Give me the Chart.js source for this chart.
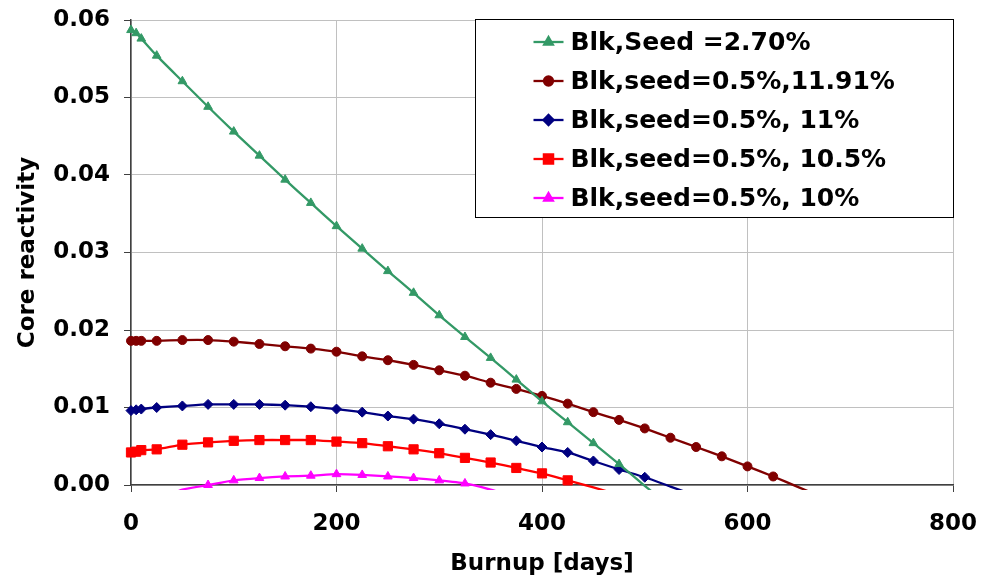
<!DOCTYPE html>
<html>
<head>
<meta charset="utf-8">
<script src="https://cdn.jsdelivr.net/npm/chart.js@4.4.1/dist/chart.umd.min.js"></script>
<style>
  body { margin: 0; background: #fff; }
  #wrap { width: 983px; height: 576px; }
</style>
</head>
<body>
<div id="wrap"><canvas id="reactivityChart" width="983" height="576"></canvas></div>
<script>
// burnup steps (days)
const days = [0, 5, 10, 25, 50, 75, 100, 125, 150, 175, 200, 225, 250, 275, 300, 325, 350, 375, 400, 425, 450, 475, 500, 525, 550, 575, 600, 625, 650, 675];

const seriesLabels = [
    'Blk,Seed =2.70%',
    'Blk,seed=0.5%,11.91%',
    'Blk,seed=0.5%, 11%',
    'Blk,seed=0.5%, 10.5%',
    'Blk,seed=0.5%, 10%'
];

// core reactivity, one value per entry of days (null = no point)
const seed270 = [0.0587, 0.0583, 0.0576, 0.0554, 0.0521, 0.0488, 0.0456, 0.0425, 0.0394, 0.0364, 0.0334, 0.0305, 0.0276, 0.0248, 0.0219, 0.0191, 0.0164, 0.0136, 0.0108, 0.0081, 0.0054, 0.0027, -0.0001, -0.0028, null, null, null, null, null, null];
const seed1191 = [0.0186, 0.0186, 0.0186, 0.0186, 0.0187, 0.0187, 0.0185, 0.0182, 0.0179, 0.0176, 0.0172, 0.0166, 0.0161, 0.0155, 0.0148, 0.0141, 0.0132, 0.0124, 0.0115, 0.0105, 0.0094, 0.0084, 0.0073, 0.0061, 0.0049, 0.0037, 0.0024, 0.0011, -0.0003, -0.0017];
const seed11 = [0.0096, 0.0097, 0.0098, 0.0100, 0.0102, 0.0104, 0.0104, 0.0104, 0.0103, 0.0101, 0.0098, 0.0094, 0.0089, 0.0085, 0.0079, 0.0072, 0.0065, 0.0057, 0.0049, 0.0042, 0.0031, 0.0020, 0.0010, -0.0002, -0.0014, null, null, null, null, null];
const seed105 = [0.0042, 0.0043, 0.0045, 0.0046, 0.0052, 0.0055, 0.0057, 0.0058, 0.0058, 0.0058, 0.0056, 0.0054, 0.0050, 0.0046, 0.0041, 0.0035, 0.0029, 0.0022, 0.0015, 0.0006, -0.0003, -0.0013, null, null, null, null, null, null, null, null];
const seed10 = [null, null, null, -0.0020, -0.0006, 0.0000, 0.0006, 0.0009, 0.0011, 0.0012, 0.0014, 0.0013, 0.0011, 0.0009, 0.0006, 0.0002, -0.0006, -0.0016, null, null, null, null, null, null, null, null, null, null, null, null];

const xTicks = [0, 200, 400, 600, 800];
const yTicks = [0, 0.01, 0.02, 0.03, 0.04, 0.05, 0.06];

const colors = ['#339966', '#800000', '#000080', '#ff0000', '#ff00ff'];
const markers = ['triangle', 'circle', 'rectRot', 'rect', 'triangle'];
const markerSize = [5, 4.5, 5, 6.5, 5];

function toPoints(values) {
    const pts = [];
    for (let i = 0; i < days.length; i++) {
        if (values[i] !== null) pts.push({ x: days[i], y: values[i] });
    }
    return pts;
}

const allValues = [seed270, seed1191, seed11, seed105, seed10];

const datasets = allValues.map(function(vals, i) {
    return {
        label: seriesLabels[i],
        data: toPoints(vals),
        borderColor: colors[i],
        backgroundColor: colors[i],
        borderWidth: 2.3,
        pointStyle: markers[i],
        pointRadius: ctx => (ctx.raw && ctx.raw.y < 0 ? 0 : markerSize[i]),
        pointBorderWidth: 1,
        pointBorderColor: colors[i],
        pointBackgroundColor: colors[i],
        tension: 0.2,
        clip: { left: 12, top: 12, right: 12, bottom: 5 }
    };
});

// legend box drawn inside the plot, top right
const boxLegend = {
    id: 'boxLegend',
    afterDraw(chart) {
        const ctx = chart.ctx;
        const area = chart.chartArea;
        const w = 478, h = 198;
        const left = Math.round(area.right - w) + 0.5;
        const top = Math.round(area.top - 1) + 0.5;
        ctx.save();
        ctx.fillStyle = '#fff';
        ctx.fillRect(left, top, w, h);
        ctx.strokeStyle = '#000';
        ctx.lineWidth = 1;
        ctx.strokeRect(left, top, w, h);
        chart.data.datasets.forEach(function(ds, i) {
            const y = top + 22.5 + i * 39;
            ctx.strokeStyle = ds.borderColor;
            ctx.lineWidth = 2.3;
            ctx.beginPath();
            ctx.moveTo(left + 58, y);
            ctx.lineTo(left + 88, y);
            ctx.stroke();
            ctx.fillStyle = ds.backgroundColor;
            Chart.helpers.drawPoint(ctx, {
                pointStyle: ds.pointStyle,
                radius: markerSize[i],
                rotation: 0,
                borderWidth: 1
            }, left + 73, y);
            ctx.fillStyle = '#000';
            ctx.font = 'bold 25px "DejaVu Sans"';
            ctx.textBaseline = 'middle';
            ctx.textAlign = 'left';
            ctx.fillText(ds.label, left + 95, y + 1);
        });
        ctx.restore();
    }
};

// let layout.padding alone decide the plot edges
function dropScalePadding(scale) {
    scale.paddingTop = 0;
    scale.paddingBottom = 0;
    scale.paddingLeft = 0;
    scale.paddingRight = 0;
}

Chart.defaults.font.family = '"DejaVu Sans", Verdana, sans-serif';
Chart.defaults.font.weight = 'bold';
Chart.defaults.font.size = 23;
Chart.defaults.color = '#000';

new Chart(document.getElementById('reactivityChart').getContext('2d'), {
    type: 'line',
    data: { datasets: datasets },
    options: {
        responsive: false,
        animation: false,
        devicePixelRatio: 1,
        layout: { padding: { left: 0, right: 30, top: 20, bottom: 0 } },
        plugins: {
            legend: { display: false },
            tooltip: { enabled: false }
        },
        scales: {
            x: {
                type: 'linear',
                min: 0,
                max: 800,
                afterBuildTicks: axis => { axis.ticks = xTicks.map(v => ({ value: v })); },
                ticks: { padding: 18 },
                grid: { color: '#c0c0c0', tickColor: '#404040', tickLength: 7 },
                border: { color: '#404040', width: 1.5 },
                title: { display: true, text: 'Burnup [days]', font: { lineHeight: 1 }, padding: { top: 0, bottom: 0 } },
                afterFit: scale => { dropScalePadding(scale); scale.height = 91; }
            },
            y: {
                min: 0,
                max: 0.06,
                afterBuildTicks: axis => { axis.ticks = yTicks.map(v => ({ value: v })); },
                ticks: { padding: 14, callback: v => v.toFixed(2) },
                grid: { color: '#c0c0c0', tickColor: '#404040', tickLength: 7 },
                border: { color: '#404040', width: 1.5 },
                title: { display: true, text: 'Core reactivity', padding: { top: 14, bottom: 0 } },
                afterFit: scale => { dropScalePadding(scale); scale.width = 131; }
            }
        }
    },
    plugins: [boxLegend]
});
</script>
</body>
</html>
